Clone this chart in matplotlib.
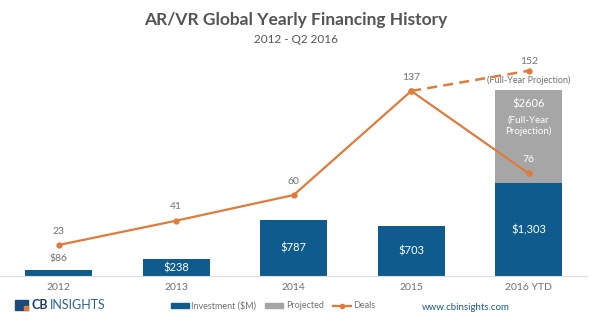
import matplotlib.pyplot as plt
from matplotlib.patches import Rectangle, Patch
from matplotlib.lines import Line2D

plt.rcParams['font.family'] = ['Lato', 'DejaVu Sans']

# Datos
years = ['2012', '2013', '2014', '2015', '2016 YTD']
investment = [86, 238, 787, 703, 1303]
projected_total = 2606
deals = [23, 41, 60, 137, 76]
deals_projected = 152
inv_labels = ['$86', '$238', '$787', '$703', '$1,303']

blue = '#0f5b8d'
grey = '#a6a6a6'
orange = '#e07b39'
txt = '#707070'

fig = plt.figure(figsize=(5.91, 3.33), dpi=100)
ax = fig.add_axes([0.0, 0.171, 0.994, 0.649])
ax2 = ax.twinx()

x = list(range(len(years)))
w = 0.57

# barras de inversion
ax.bar(x[-1], projected_total - investment[-1], w, bottom=investment[-1], color=grey, zorder=1)
ax.bar(x, investment, w, color=blue, zorder=2)

inv_top = 3025
ax.set_ylim(0, inv_top)
ax.set_xlim(-0.5, 4.5)

for i, (v, lab) in enumerate(zip(investment, inv_labels)):
    if v < 150:
        ax.text(i, v + 90, lab, ha='center', va='bottom', color=txt, fontsize=7.5)
    else:
        ax.text(i, v / 2, lab, ha='center', va='center', color='white', fontsize=8)
ax.text(x[-1], projected_total - 120, '$2606', ha='center', va='top', color='white', fontsize=8)
ax.text(x[-1], projected_total - 360, '(Full-Year\nProjection)', ha='center', va='top',
        color='white', fontsize=7, linespacing=1.3)

# linea de deals (misma base que las barras)
ax2.set_ylim(0, 160)
ax2.plot(x, deals, color=orange, lw=1.6, marker='o', ms=3.5, zorder=5)
ax2.plot([x[3], x[4]], [deals[3], deals_projected], color=orange, lw=1.8,
         ls=(0, (4, 2.5)), marker='o', ms=3.5, zorder=5)
for i, d in enumerate(deals):
    ax2.text(i, d + 7, str(d), ha='center', va='bottom',
             color='white' if i == 4 else txt, fontsize=7.5, zorder=6)
ax2.text(x[4], deals_projected + 3.5, '152', ha='center', va='bottom', color=txt, fontsize=7.5)
ax2.text(x[4], deals_projected - 3.5, '(Full-Year Projection)', ha='center', va='top',
         color=txt, fontsize=6.5)

for a in (ax, ax2):
    a.set_yticks([])
    for s in a.spines.values():
        s.set_visible(False)
ax.spines['bottom'].set_visible(True)
ax.spines['bottom'].set_color('#dddddd')
ax.set_xticks(x)
ax.set_xticklabels(years, color=txt, fontsize=7.5)
ax.tick_params(axis='x', length=0, pad=5)

# titulos
fig.text(0.5, 0.94, 'AR/VR Global Yearly Financing History', ha='center', va='center',
         fontsize=12.5, fontweight='bold', color='#555555')
fig.text(0.5, 0.88, '2012 - Q2 2016', ha='center', va='center', fontsize=8.5, color='#555555')

# leyenda
handles = [Patch(color=blue), Patch(color=grey),
           Line2D([], [], color=orange, lw=1.6, marker='o', ms=3)]
fig.legend(handles, ['Investment ($M)', 'Projected', 'Deals'], loc='center',
           bbox_to_anchor=(0.462, 0.082), ncol=3, frameon=False, fontsize=6.5,
           labelcolor=txt, handlelength=2.0, handleheight=0.45, handletextpad=0.25,
           columnspacing=1.0)

# logo y web
fig.patches.append(Rectangle((0.026, 0.069), 0.022, 0.03, transform=fig.transFigure,
                             color='#1a4a7a'))
fig.patches.append(Rectangle((0.041, 0.069), 0.007, 0.012, transform=fig.transFigure,
                             color=orange))
fig.text(0.053, 0.083, 'CB', ha='left', va='center', fontsize=9, fontweight='bold',
         color='#1a3f6b')
fig.text(0.084, 0.083, 'INSIGHTS', ha='left', va='center', fontsize=9, color='#2a6496')
fig.text(0.714, 0.076, 'www.cbinsights.com', ha='left', va='center', fontsize=7,
         color='#1f5a8a')

fig.savefig('out.png', dpi=100)
